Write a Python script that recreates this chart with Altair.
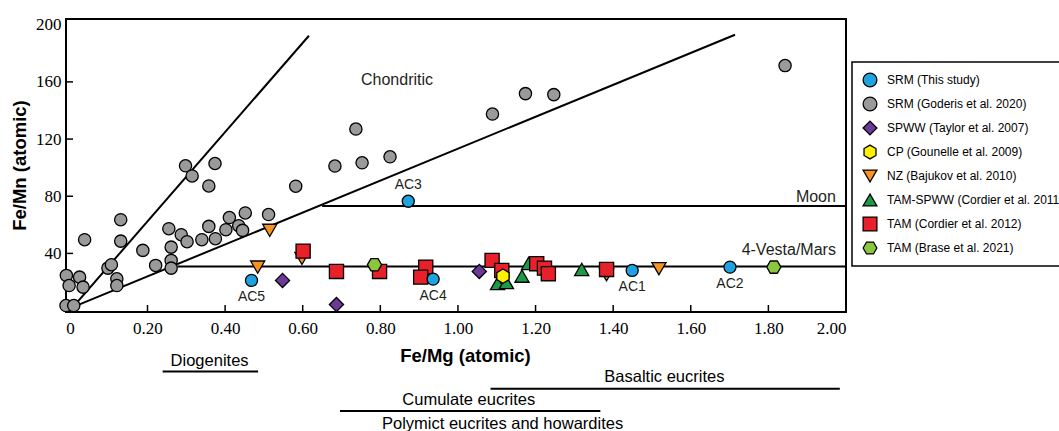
import altair as alt
import pandas as pd

# ---------------- data ----------------
groups = ["SRM (This study)", "SRM (Goderis et al. 2020)", "SPWW (Taylor et al. 2007)",
          "CP (Gounelle et al. 2009)", "NZ (Bajukov et al. 2010)",
          "TAM-SPWW (Cordier et al. 2011)", "TAM (Cordier et al. 2012)", "TAM (Brase et al. 2021)"]

srm_this_x = [1.449, 1.701, 0.872, 0.936, 0.468]
srm_this_y = [28.1, 30.4, 76.5, 22.0, 21.1]
srm_this_lab = ["AC1", "AC2", "AC3", "AC4", "AC5"]

goderis_x = [-0.009, -0.002, 0.025, 0.034, 0.038, -0.010, 0.010, 0.098, 0.107, 0.121, 0.121,
             0.131, 0.131, 0.188, 0.221, 0.255, 0.261, 0.261, 0.261, 0.287, 0.302, 0.298,
             0.315, 0.358, 0.374, 0.340, 0.358, 0.375, 0.402, 0.411, 0.435, 0.445, 0.452,
             0.512, 0.582, 0.683, 0.737, 0.753, 0.825, 1.089, 1.174, 1.247, 1.843]
goderis_y = [24.6, 17.5, 23.4, 16.4, 49.6, 3.5, 3.5, 29.7, 32.1, 22.2, 17.5,
             63.6, 48.6, 42.1, 31.6, 57.3, 44.4, 35.1, 29.7, 53.1, 48.2, 101.3,
             94.2, 87.2, 102.9, 49.6, 58.9, 50.3, 56.6, 65.1, 59.4, 56.1, 68.3,
             67.2, 87.0, 101.1, 127.0, 103.4, 107.6, 137.5, 151.8, 151.1, 171.4]

spww_x = [0.548, 0.687, 1.055]
spww_y = [21.1, 4.2, 27.4]

cp_x = [1.116]
cp_y = [24.1]

nz_x = [0.515, 0.484, 0.598, 1.383, 1.518]
nz_y = [56.1, 30.4, 36.5, 25.1, 29.3]

tamspww_x = [1.102, 1.125, 1.165, 1.182, 1.319]
tamspww_y = [18.9, 19.6, 24.1, 33.0, 28.8]

tam12_x = [0.601, 0.687, 0.798, 0.917, 0.904, 1.088, 1.113, 1.203, 1.223, 1.233, 1.383]
tam12_y = [41.6, 27.4, 27.4, 30.4, 23.4, 35.1, 28.1, 32.8, 29.7, 25.8, 28.8]

brase_x = [0.785, 1.814]
brase_y = [32.1, 30.4]

# reference lines (x1, y1, x2, y2)
line_x1 = [0.004, 0.017, 0.650, 0.277]
line_y1 = [1.2, 3.5, 73.2, 30.9]
line_x2 = [0.616, 1.714, 2.000, 2.000]
line_y2 = [192.3, 193.0, 73.2, 30.9]

# in-plot labels
chond_text = ["Chondritic"]
chond_x = [0.843]
chond_y = [161.4]
ref_text = ["Moon", "4-Vesta/Mars"]
ref_x = [1.974, 1.974]
ref_y = [79.3, 42.1]

# range annotations below the x axis
rng_text = ["Diogenites", "Basaltic eucrites", "Cumulate eucrites", "Polymict eucrites and howardites"]
rng_tx = [0.36, 1.532, 1.028, 1.115]
rng_ty = [-35.1, -46.3, -62.5, -79.3]
rng_x1 = [0.239, 1.084, 0.696]
rng_x2 = [0.485, 1.984, 1.367]
rng_ly = [-42.6, -54.7, -70.2]

x_ticks = [0.2, 0.4, 0.6, 0.8, 1.0, 1.2, 1.4, 1.6, 1.8]
y_ticks = [40, 80, 120, 160]
x_labels = [0, 0.2, 0.4, 0.6, 0.8, 1.0, 1.2, 1.4, 1.6, 1.8, 2.0]
y_labels = [40, 80, 120, 160, 200]

# ---------------- styles ----------------
hex_side = "M-1,0L-0.5,-0.866L0.5,-0.866L1,0L0.5,0.866L-0.5,0.866Z"
hex_top = "M0,-1L0.866,-0.5L0.866,0.5L0,1L-0.866,0.5L-0.866,-0.5Z"
colors = ["#1ea3e0", "#9a9a9a", "#6b3a96", "#fff100", "#f7941d", "#1e9a47", "#e8202a", "#8cc63f"]
shapes = ["circle", "circle", "diamond", hex_top, "triangle-down", "triangle-up", "square", hex_side]

# ---------------- tables ----------------
series = [
    (groups[1], goderis_x, goderis_y),
    (groups[2], spww_x, spww_y),
    (groups[5], tamspww_x, tamspww_y),
    (groups[4], nz_x, nz_y),
    (groups[6], tam12_x, tam12_y),
    (groups[3], cp_x, cp_y),
    (groups[7], brase_x, brase_y),
    (groups[0], srm_this_x, srm_this_y),
]
rows = []
k = 0
for g, xv_list, yv_list in series:
    for xv, yv in zip(xv_list, yv_list):
        rows.append({"group": g, "fe_mg": xv, "fe_mn": yv, "ord": k})
        k += 1
pts = pd.DataFrame(rows)

ac = pd.DataFrame({"fe_mg": srm_this_x, "fe_mn": srm_this_y, "lab": srm_this_lab})
lines = pd.DataFrame({"x1": line_x1, "y1": line_y1, "x2": line_x2, "y2": line_y2})
chond = pd.DataFrame({"t": chond_text, "x": chond_x, "y": chond_y})
refl = pd.DataFrame({"t": ref_text, "x": ref_x, "y": ref_y})
rng_t = pd.DataFrame({"t": rng_text, "x": rng_tx, "y": rng_ty})
rng_l = pd.DataFrame({"x1": rng_x1, "x2": rng_x2, "y": rng_ly})
xt = pd.DataFrame({"v": x_ticks})
yt = pd.DataFrame({"v": y_ticks})
leg = pd.DataFrame({"group": groups})
leg_box = pd.DataFrame({"k": [0]})

FONT = "Liberation Sans"
NARROW = "Liberation Sans Narrow"
W, H = 780, 293
xs = alt.Scale(domain=[-0.01, 2.0], nice=False, zero=False)
ys = alt.Scale(domain=[-1, 204], nice=False, zero=False)

x_axis = alt.Axis(values=x_labels, title="Fe/Mg (atomic)", grid=False, domain=False, tickSize=0,
                  labelExpr="datum.value == 0 ? '0' : format(datum.value, '.2f')",
                  labelFontSize=17, labelFont=NARROW, labelColor="black", labelPadding=8,
                  titleFont=FONT, titleFontSize=18.5, titleFontWeight="bold", titleColor="black",
                  titleX=399, titleY=43, titleAlign="center", titleBaseline="middle")
y_axis = alt.Axis(values=y_labels, title="Fe/Mn (atomic)", grid=False, domain=False, tickSize=0,
                  labelFontSize=17, labelFont=NARROW, labelColor="black", labelPadding=5,
                  titleFont=FONT, titleFontSize=18.5, titleFontWeight="bold", titleColor="black",
                  titleX=-47, titleY=146, titleAlign="center", titleBaseline="middle", titleAngle=-90)

line_layer = alt.Chart(lines).mark_rule(color="black", strokeWidth=2).encode(
    x=alt.X("x1:Q", scale=xs, axis=x_axis), y=alt.Y("y1:Q", scale=ys, axis=y_axis),
    x2="x2:Q", y2="y2:Q")

xtick_layer = alt.Chart(xt).mark_rule(color="black", strokeWidth=1.5).encode(
    x=alt.X("v:Q", scale=xs), y=alt.value(H), y2=alt.value(H - 7))
ytick_layer = alt.Chart(yt).mark_rule(color="black", strokeWidth=1.5).encode(
    y=alt.Y("v:Q", scale=ys), x=alt.value(0), x2=alt.value(7))

color_enc = alt.Color("group:N", scale=alt.Scale(domain=groups, range=colors), legend=None)
shape_enc = alt.Shape("group:N", scale=alt.Scale(domain=groups, range=shapes), legend=None)


def point_layer(sel, size):
    return alt.Chart(pts).transform_filter(sel).mark_point(
        filled=True, opacity=1, stroke="black", strokeWidth=1.3, size=size).encode(
        x=alt.X("fe_mg:Q", scale=xs), y=alt.Y("fe_mn:Q", scale=ys),
        color=color_enc, shape=shape_enc, order=alt.Order("ord:Q"))


gray_layer = point_layer("datum.group == '%s'" % groups[1], 150)
other_layer = point_layer("datum.group != '%s' && datum.group != '%s'" % (groups[0], groups[1]), 200)
blue_layer = point_layer("datum.group == '%s'" % groups[0], 145)

ac_below = alt.Chart(ac).transform_filter("datum.lab != 'AC3'").mark_text(
    font=FONT, fontSize=14, color="#231f20", dy=17, baseline="middle").encode(
    x=alt.X("fe_mg:Q", scale=xs), y=alt.Y("fe_mn:Q", scale=ys), text="lab:N")
ac_above = alt.Chart(ac).transform_filter("datum.lab == 'AC3'").mark_text(
    font=FONT, fontSize=14, color="#231f20", dy=-16, baseline="middle").encode(
    x=alt.X("fe_mg:Q", scale=xs), y=alt.Y("fe_mn:Q", scale=ys), text="lab:N")

chond_layer = alt.Chart(chond).mark_text(font=FONT, fontSize=16, color="#231f20",
                                         baseline="middle", align="center").encode(
    x=alt.X("x:Q", scale=xs), y=alt.Y("y:Q", scale=ys), text="t:N")
ref_layer = alt.Chart(refl).mark_text(font=FONT, fontSize=16, color="#231f20",
                                      baseline="middle", align="right").encode(
    x=alt.X("x:Q", scale=xs), y=alt.Y("y:Q", scale=ys), text="t:N")

rng_text_layer = alt.Chart(rng_t).mark_text(font=FONT, fontSize=16.5, color="black", baseline="middle").encode(
    x=alt.X("x:Q", scale=xs), y=alt.Y("y:Q", scale=ys), text="t:N")
rng_line_layer = alt.Chart(rng_l).mark_rule(color="black", strokeWidth=2).encode(
    x=alt.X("x1:Q", scale=xs), x2="x2:Q", y=alt.Y("y:Q", scale=ys))

main = alt.layer(
    line_layer, xtick_layer, ytick_layer, gray_layer, other_layer, blue_layer,
    ac_below, ac_above, chond_layer, ref_layer, rng_text_layer, rng_line_layer
)

# ---- legend drawn as a layer with its own ordinal row scale ----
leg_y = alt.Y("group:N", scale=alt.Scale(domain=groups, range=[61, 229], type="point", padding=0),
              axis=None)
leg_frame = alt.Chart(leg_box).mark_rect(fill="white", stroke="black", strokeWidth=1.5).encode(
    x=alt.value(786), x2=alt.value(1003), y=alt.value(43), y2=alt.value(247))
leg_sym = alt.Chart(leg).mark_point(filled=True, opacity=1, stroke="black", strokeWidth=1.3,
                                    size=190).encode(
    x=alt.value(804), y=leg_y, color=color_enc, shape=shape_enc)
leg_txt = alt.Chart(leg).mark_text(font=FONT, fontSize=12, color="black", align="left",
                                   baseline="middle").encode(
    x=alt.value(821), y=leg_y, text="group:N")
legend_layer = alt.layer(leg_frame, leg_sym, leg_txt)

chart = alt.layer(main, legend_layer).resolve_scale(y="independent").properties(
    width=W, height=H,
    autosize=alt.AutoSizeParams(type="none"),
    padding={"left": 66, "top": 19, "right": 213, "bottom": 119},
    background="white",
).configure_view(
    stroke="black", strokeWidth=2
)

chart.save("out.html", embed_options={"renderer": "svg", "actions": False})
